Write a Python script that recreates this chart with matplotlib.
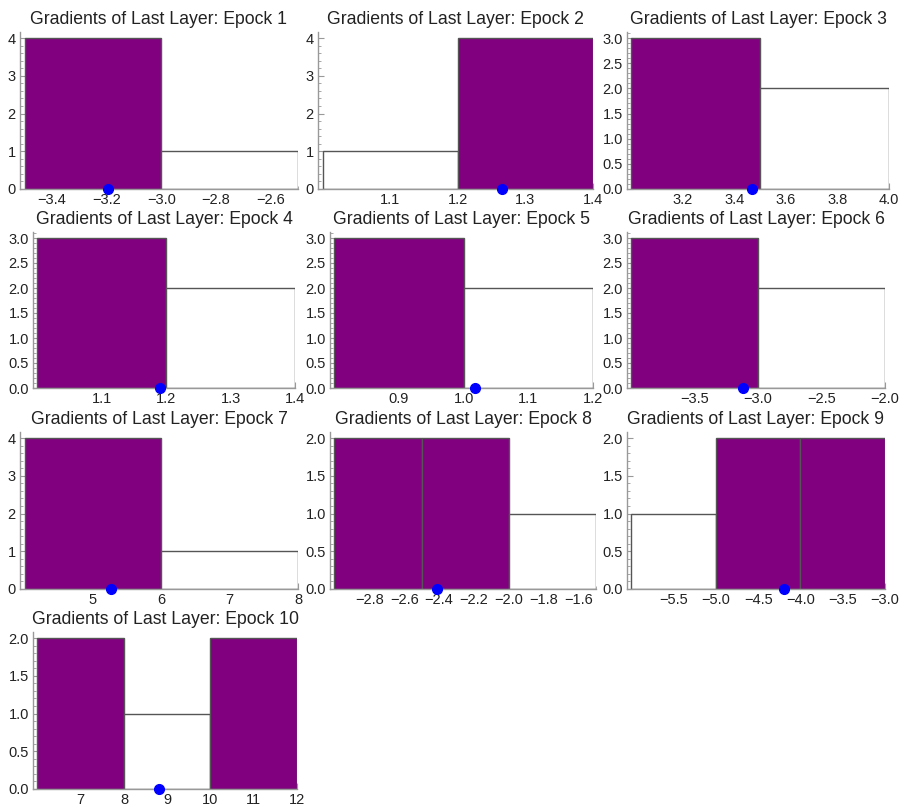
import numpy as np
import matplotlib
matplotlib.use("Agg")
import matplotlib.pyplot as plt
from matplotlib.ticker import FixedLocator, MultipleLocator, AutoMinorLocator

plt.rcParams["font.family"] = ["Liberation Sans", "DejaVu Sans"]

# Histogram bin edges per epoch
epoch_1_edges = [-3.5, -3.0, -2.5]
epoch_2_edges = [1.0, 1.2, 1.4]
epoch_3_edges = [3.0, 3.5, 4.0]
epoch_4_edges = [1.0, 1.2, 1.4]
epoch_5_edges = [0.8, 1.0, 1.2]
epoch_6_edges = [-4.0, -3.0, -2.0]
epoch_7_edges = [4, 6, 8]
epoch_8_edges = [-3.0, -2.5, -2.0, -1.5]
epoch_9_edges = [-6.0, -5.0, -4.0, -3.0]
epoch_10_edges = [6, 8, 10, 12]

# Counts per bin
epoch_1_counts = [4, 1]
epoch_2_counts = [1, 4]
epoch_3_counts = [3, 2]
epoch_4_counts = [3, 2]
epoch_5_counts = [3, 2]
epoch_6_counts = [3, 2]
epoch_7_counts = [4, 1]
epoch_8_counts = [2, 2, 1]
epoch_9_counts = [1, 2, 2]
epoch_10_counts = [2, 1, 2]

# Mean gradient (blue point)
epoch_means = [-3.196, 1.266, 3.468, 1.191, 1.018,
               -3.12, 5.27, -2.41, -4.2, 8.81]

edges_list = [epoch_1_edges, epoch_2_edges, epoch_3_edges, epoch_4_edges,
              epoch_5_edges, epoch_6_edges, epoch_7_edges, epoch_8_edges,
              epoch_9_edges, epoch_10_edges]
counts_list = [epoch_1_counts, epoch_2_counts, epoch_3_counts,
               epoch_4_counts, epoch_5_counts, epoch_6_counts,
               epoch_7_counts, epoch_8_counts, epoch_9_counts,
               epoch_10_counts]

# Layout: axes box in pixels (left spine, right end, top, bottom)
W, H = 903, 808
panel_boxes = [
    (20, 298, 32, 189), (318, 593, 32, 189), (627, 889, 32, 189),
    (33, 295, 232, 388), (330, 593, 232, 388), (627, 885, 232, 388),
    (20, 298, 432, 589), (330, 596, 432, 589), (627, 885, 432, 589),
    (33, 297, 632, 789),
]
x_steps = [0.2, 0.1, 0.2, 0.1, 0.1, 0.5, 1, 0.2, 0.5, 1]
x_minor = [4, 5, 4, 5, 5, 5, 5, 4, 5, 5]

fig = plt.figure(figsize=(W / 100, H / 100), dpi=100)

axis_grey = "#999999"
for i, (edges, counts) in enumerate(zip(edges_list, counts_list)):
    left, right, top, bottom = panel_boxes[i]
    ax = fig.add_axes([
        left / W,
        1 - bottom / H,
        (right - left) / W,
        (bottom - top) / H
    ])
    edges = np.array(edges, dtype=float)
    counts = np.array(counts)
    peak = counts.max()
    colors = [
        "#800080" if c == peak else "white"
        for c in counts
    ]
    ax.bar(
        edges[:-1],
        counts,
        width=np.diff(edges),
        align="edge",
        color=colors,
        edgecolor="#555555",
        linewidth=1.0,
        zorder=2
    )
    ax.plot(
        epoch_means[i], 0,
        "o",
        color="blue",
        markersize=7,
        clip_on=False,
        zorder=5
    )

    lo, hi = edges[0], edges[-1]
    ax.set_xlim(lo - 0.017 * (hi - lo), hi)
    ax.set_ylim(0, peak * 1.04)

    # x ticks on multiples of the step, skipping the lowest bin edge
    step = x_steps[i]
    k0 = int(np.floor(lo / step + 1e-6)) + 1
    k1 = int(np.floor(hi / step + 1e-6))
    ticks = np.arange(k0, k1 + 1) * step
    ax.xaxis.set_major_locator(FixedLocator(ticks))
    ax.xaxis.set_major_formatter(
        plt.FuncFormatter(
            lambda v, p, s=step: (f"{v:.0f}" if s >= 1 else f"{v:.1f}").replace("-", "\u2212")
        )
    )
    ax.xaxis.set_minor_locator(MultipleLocator(step / x_minor[i]))

    if peak >= 4:
        ax.yaxis.set_major_locator(MultipleLocator(1))
        ax.yaxis.set_minor_locator(AutoMinorLocator(5))
        ax.yaxis.set_major_formatter(plt.FuncFormatter(lambda v, p: f"{v:.0f}"))
    else:
        ax.yaxis.set_major_locator(MultipleLocator(0.5))
        ax.yaxis.set_minor_locator(AutoMinorLocator(5))
        ax.yaxis.set_major_formatter(plt.FuncFormatter(lambda v, p: f"{v:.1f}"))

    for side in ["top", "right"]:
        ax.spines[side].set_visible(False)
    for side in ["left", "bottom"]:
        ax.spines[side].set_color(axis_grey)
        ax.spines[side].set_linewidth(1.0)
    ax.tick_params(
        which="major", direction="in", length=4, width=0.8,
        color=axis_grey, labelsize=10.5, labelcolor="#222222", pad=3
    )
    ax.tick_params(
        which="minor", direction="in", length=2, width=0.6,
        color=axis_grey
    )
    ax.set_title(
        f"Gradients of Last Layer: Epock {i + 1}",
        fontsize=12.7,
        color="#222222",
        pad=6
    )

plt.savefig("out.png", dpi=100)
